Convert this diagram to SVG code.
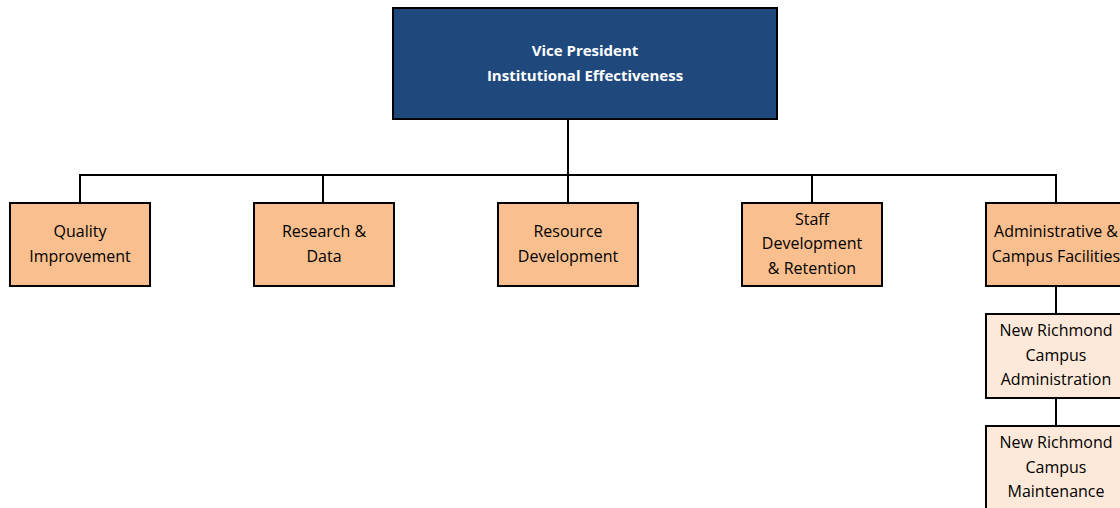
<svg xmlns="http://www.w3.org/2000/svg" width="1120" height="508" viewBox="0 0 1120 508">
  <style>
    .box { stroke: #000; stroke-width: 2; }
    .vp { fill: #1F497D; }
    .dept { fill: #F9BF8F; }
    .sub { fill: #FDE9D9; }
    .lbl { font-family: "Open Sans", "Liberation Sans", sans-serif; font-size: 16px; fill: #000; text-anchor: middle; dominant-baseline: central; }
    .lbl-vp { font-family: "Open Sans", "Liberation Sans", sans-serif; font-size: 15px; font-weight: bold; fill: #fff; text-anchor: middle; dominant-baseline: central; }
    .conn { fill: none; stroke: #000; stroke-width: 2; }
  </style>
  <rect width="1120" height="508" fill="#fff"/>

  <!-- connectors -->
  <g id="connectors">
    <path class="conn" d="M568 119 V175"/>
    <path class="conn" d="M80 202 V175 H1056 V202"/>
    <path class="conn" d="M323 175 V202"/>
    <path class="conn" d="M568 175 V202"/>
    <path class="conn" d="M812 175 V202"/>
    <path class="conn" d="M1056 286 V314"/>
    <path class="conn" d="M1056 398 V426"/>
  </g>

  <g id="vp">
    <rect class="box vp" x="393" y="8" width="384" height="111"/>
    <text class="lbl-vp" x="585" y="50">Vice President</text>
    <text class="lbl-vp" x="585" y="75">Institutional Effectiveness</text>
  </g>

  <g id="quality">
    <rect class="box dept" x="10" y="203" width="140" height="83"/>
    <text class="lbl" x="80" y="231">Quality</text>
    <text class="lbl" x="80" y="256">Improvement</text>
  </g>

  <g id="research">
    <rect class="box dept" x="254" y="203" width="140" height="83"/>
    <text class="lbl" x="324" y="231">Research &amp;</text>
    <text class="lbl" x="324" y="256">Data</text>
  </g>

  <g id="resource">
    <rect class="box dept" x="498" y="203" width="140" height="83"/>
    <text class="lbl" x="568" y="231">Resource</text>
    <text class="lbl" x="568" y="256">Development</text>
  </g>

  <g id="staff">
    <rect class="box dept" x="742" y="203" width="140" height="83"/>
    <text class="lbl" x="812" y="219">Staff</text>
    <text class="lbl" x="812" y="243">Development</text>
    <text class="lbl" x="812" y="268">&amp; Retention</text>
  </g>

  <g id="admin">
    <rect class="box dept" x="986" y="203" width="140" height="83"/>
    <text class="lbl" x="1056" y="231">Administrative &amp;</text>
    <text class="lbl" x="1056" y="256">Campus Facilities</text>
  </g>

  <g id="nr-admin">
    <rect class="box sub" x="986" y="314" width="140" height="84"/>
    <text class="lbl" x="1056" y="330">New Richmond</text>
    <text class="lbl" x="1056" y="355">Campus</text>
    <text class="lbl" x="1056" y="379">Administration</text>
  </g>

  <g id="nr-maint">
    <rect class="box sub" x="986" y="426" width="140" height="84"/>
    <text class="lbl" x="1056" y="442">New Richmond</text>
    <text class="lbl" x="1056" y="467">Campus</text>
    <text class="lbl" x="1056" y="491">Maintenance</text>
  </g>
</svg>
